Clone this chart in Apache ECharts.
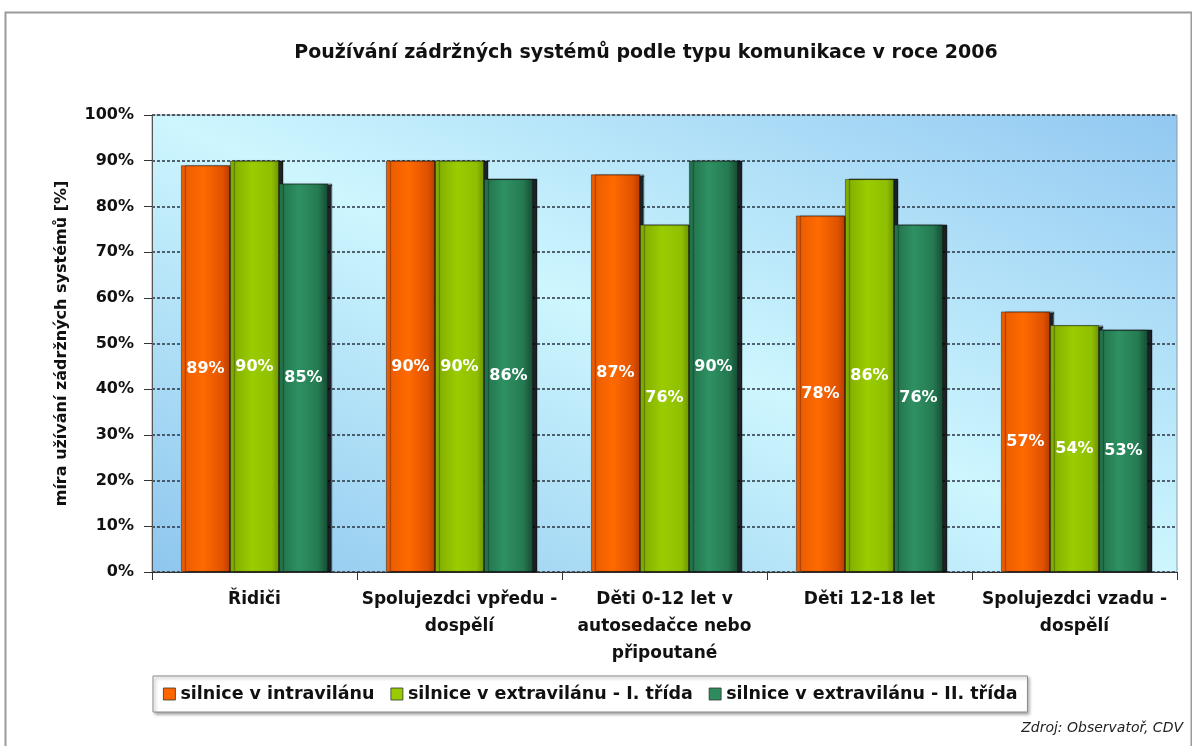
<!DOCTYPE html>
<html>
<head>
<meta charset="utf-8">
<script src="https://cdn.jsdelivr.net/npm/echarts@6/dist/echarts.min.js"></script>
<style>
html,body{margin:0;padding:0;background:#fff;}
#chart{width:1192px;height:746px;}
</style>
</head>
<body>
<div id="chart"></div>
<script>
var titleText = 'Používání zádržných systémů podle typu komunikace v roce 2006';
var yAxisName = 'míra užívání zádržných systémů [%]';
var sourceText = 'Zdroj: Observatoř, CDV';
var categories = ['Řidiči', 'Spolujezdci vpředu -\ndospělí', 'Děti 0-12 let v\nautosedačce nebo\npřipoutané', 'Děti 12-18 let', 'Spolujezdci vzadu -\ndospělí'];
var seriesNames = ['silnice v intravilánu', 'silnice v extravilánu - I. třída', 'silnice v extravilánu - II. třída'];
var intravilan = [89, 90, 87, 78, 57];
var extravilan1 = [90, 90, 76, 86, 54];
var extravilan2 = [85, 86, 90, 76, 53];
var yTicks = [0, 10, 20, 30, 40, 50, 60, 70, 80, 90, 100];

var FONT = '"DejaVu Sans", "Liberation Sans", Arial, sans-serif';

function hgrad(stops) {
  return new echarts.graphic.LinearGradient(0, 0, 1, 0, stops.map(function (s) { return { offset: s[0], color: s[1] }; }));
}
var colors = [
  hgrad([[0, '#e85a00'], [0.45, '#ff6a00'], [0.85, '#e05200'], [1, '#b83c00']]),
  hgrad([[0, '#7fa800'], [0.45, '#9acc00'], [0.85, '#8fbf00'], [1, '#6e9400']]),
  hgrad([[0, '#226f48'], [0.4, '#2e9163'], [0.8, '#257a52'], [1, '#154a32']])
];
var legendColors = ['#ff6600', '#99cc00', '#2e8b5e'];

var chart = echarts.init(document.getElementById('chart'), null, { renderer: 'canvas' });

function makeSeries(name, data, idx) {
  return {
    name: name,
    type: 'bar',
    data: data,
    barWidth: 49,
    barGap: '0%',
    itemStyle: {
      color: colors[idx],
      borderColor: 'rgba(20,20,20,0.55)',
      borderWidth: 0.8,
      shadowColor: 'rgba(0,0,0,0.85)',
      shadowOffsetX: 4,
      shadowOffsetY: 0,
      shadowBlur: 1
    },
    label: {
      show: true,
      position: 'inside',
      formatter: '{c}%',
      color: '#ffffff',
      fontFamily: FONT,
      fontWeight: 'bold',
      fontSize: 16
    },
    emphasis: { disabled: true }
  };
}

var option = {
  backgroundColor: '#ffffff',
  animation: false,
  title: {
    text: titleText,
    left: 646,
    textAlign: 'center',
    top: 44,
    padding: 0,
    textStyle: { fontFamily: FONT, fontWeight: 'bold', fontSize: 19, color: '#111' }
  },
  legend: {
    data: seriesNames.map(function (n, i) { return { name: n, itemStyle: { color: legendColors[i] } }; }),
    left: 153,
    top: 676,
    orient: 'horizontal',
    icon: 'rect',
    itemWidth: 12,
    itemHeight: 12,
    itemGap: 16,
    padding: [8, 10, 8, 10],
    backgroundColor: '#ffffff',
    borderColor: '#8a8a8a',
    borderWidth: 1,
    shadowColor: 'rgba(0,0,0,0.35)',
    shadowBlur: 3,
    shadowOffsetX: 2,
    shadowOffsetY: 2,
    itemStyle: { borderColor: '#333', borderWidth: 0.8 },
    textStyle: { fontFamily: FONT, fontWeight: 'bold', fontSize: 17.5, color: '#111', lineHeight: 20 }
  },
  grid: {
    left: 152,
    right: 15,
    top: 115,
    bottom: 174,
    show: true,
    borderColor: '#8c9aa6',
    borderWidth: 1,
    backgroundColor: new echarts.graphic.LinearGradient(0.333, 1.333, 0.667, -0.333, [
      { offset: 0, color: '#8ec6ee' },
      { offset: 0.5, color: '#cdf6fe' },
      { offset: 1, color: '#92c8f1' }
    ])
  },
  xAxis: {
    type: 'category',
    data: categories,
    axisLine: { show: true, lineStyle: { color: '#333', width: 1 } },
    axisTick: { show: true, length: 8, lineStyle: { color: '#333' } },
    axisLabel: {
      interval: 0,
      margin: 14,
      fontFamily: FONT,
      fontWeight: 'bold',
      fontSize: 17,
      lineHeight: 27,
      color: '#111'
    },
    splitLine: { show: false }
  },
  yAxis: {
    type: 'value',
    min: 0,
    max: 100,
    interval: 10,
    name: yAxisName,
    nameLocation: 'middle',
    nameGap: 82,
    nameRotate: 90,
    nameTextStyle: { fontFamily: FONT, fontWeight: 'bold', fontSize: 16, color: '#111' },
    axisLine: { show: true, lineStyle: { color: '#555', width: 1 } },
    axisTick: { show: true, length: 8, lineStyle: { color: '#333' } },
    axisLabel: {
      margin: 18,
      fontFamily: FONT,
      fontWeight: 'bold',
      fontSize: 16,
      color: '#111',
      formatter: function (v) { return yTicks.indexOf(v) >= 0 ? v + '%' : ''; }
    },
    splitLine: { show: true, lineStyle: { color: '#2a3440', type: [3, 2], width: 1.5 } }
  },
  series: [
    makeSeries(seriesNames[0], intravilan, 0),
    makeSeries(seriesNames[1], extravilan1, 1),
    makeSeries(seriesNames[2], extravilan2, 2)
  ],
  graphic: [
    {
      type: 'rect',
      left: 3, top: 10,
      shape: { width: 1186, height: 760 },
      style: { fill: 'none', stroke: '#9a9a9a', lineWidth: 2 },
      silent: true, z: 100
    },
    {
      type: 'text',
      right: 9, top: 721,
      style: { text: sourceText, font: 'italic 14px ' + FONT, fill: '#222' },
      silent: true
    }
  ]
};
chart.setOption(option);
</script>
</body>
</html>
